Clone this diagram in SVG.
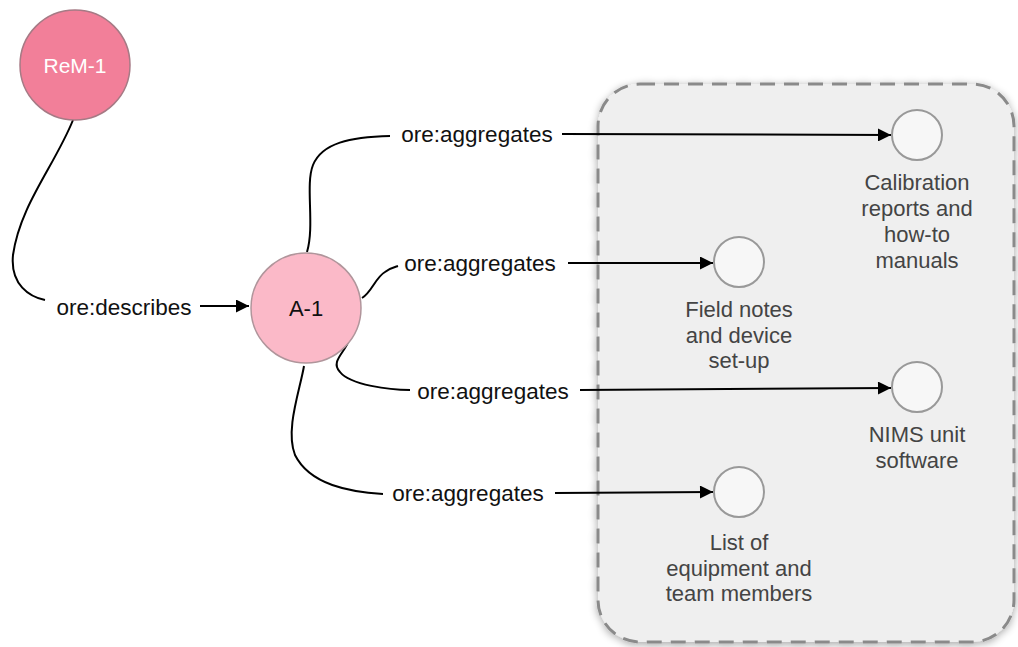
<svg xmlns="http://www.w3.org/2000/svg" width="1018" height="647" viewBox="0 0 1018 647">
<style>
.edge{fill:none;stroke:#000;stroke-width:2}
.elbl{font-family:"Liberation Sans",Arial,sans-serif;font-size:22.5px;fill:#111;text-anchor:middle}
.nlbl{font-family:"Liberation Sans",Arial,sans-serif;font-size:22px;fill:#444;text-anchor:middle}
.res{fill:#f7f7f7;stroke:#999;stroke-width:2}
</style>
<defs>
<marker id="arr" viewBox="0 0 10 10" refX="10" refY="5" markerWidth="17" markerHeight="13" markerUnits="userSpaceOnUse" orient="auto">
<path d="M0,0 L10,5 L0,10 z" fill="#000"/>
</marker>
<filter id="sh" x="-10%" y="-10%" width="120%" height="120%">
<feGaussianBlur in="SourceAlpha" stdDeviation="4"/>
<feOffset dx="0" dy="2"/>
<feComponentTransfer><feFuncA type="linear" slope="0.35"/></feComponentTransfer>
<feMerge><feMergeNode/><feMergeNode in="SourceGraphic"/></feMerge>
</filter>
</defs>
<rect width="1018" height="647" fill="#fff"/>
<g id="aggregation-box">
<rect x="598" y="84" width="416" height="558" rx="42" ry="42" fill="#efefef" stroke="#8a8a8a" stroke-width="3" stroke-dasharray="15 9" filter="url(#sh)"/>
</g>
<g id="connectors">
<path class="edge" d="M73,120 C55,165 20,205 13,255 C10,285 30,297 45,300"/>
<path class="edge" d="M200,306 L249,306" marker-end="url(#arr)"/>
<path class="edge" d="M307,252 C315,225 305,185 313,165 C322,143 350,137 390,136"/>
<path class="edge" d="M562,134 L891,135" marker-end="url(#arr)"/>
<path class="edge" d="M362,298 C372,292 375,278 385,272 C390,268 395,267 398,266"/>
<path class="edge" d="M568,263 L713,263" marker-end="url(#arr)"/>
<path class="edge" d="M348,342 C345,352 330,362 340,372 C350,385 390,390 410,390"/>
<path class="edge" d="M580,390 L891,388" marker-end="url(#arr)"/>
<path class="edge" d="M304,366 C300,390 285,430 295,455 C310,485 350,492 383,494"/>
<path class="edge" d="M555,493 L713,492" marker-end="url(#arr)"/>
</g>
<g id="edge-labels">
<text class="elbl" x="124" y="315">ore:describes</text>
<text class="elbl" x="477" y="142">ore:aggregates</text>
<text class="elbl" x="480" y="271">ore:aggregates</text>
<text class="elbl" x="493" y="399">ore:aggregates</text>
<text class="elbl" x="468" y="501">ore:aggregates</text>
</g>
<g id="ReM-1">
<circle cx="75" cy="65" r="55" fill="#f27f99" stroke="#a67a85" stroke-width="1.5"/>
<text x="75" y="73" font-family="Liberation Sans,Arial,sans-serif" font-size="21" fill="#fff" text-anchor="middle">ReM-1</text>
</g>
<g id="A-1">
<circle cx="306" cy="308" r="55" fill="#fbb9c8" stroke="#b0959b" stroke-width="1.5"/>
<text x="306" y="316" font-family="Liberation Sans,Arial,sans-serif" font-size="22" fill="#111" text-anchor="middle">A-1</text>
</g>
<g id="calibration">
<circle class="res" cx="917" cy="135" r="25"/>
<text class="nlbl" x="917" y="190">Calibration</text>
<text class="nlbl" x="917" y="216">reports and</text>
<text class="nlbl" x="917" y="242">how-to</text>
<text class="nlbl" x="917" y="268">manuals</text>
</g>
<g id="field-notes">
<circle class="res" cx="739" cy="262" r="25"/>
<text class="nlbl" x="739" y="317">Field notes</text>
<text class="nlbl" x="739" y="343">and device</text>
<text class="nlbl" x="739" y="368">set-up</text>
</g>
<g id="nims">
<circle class="res" cx="917" cy="387" r="25"/>
<text class="nlbl" x="917" y="442">NIMS unit</text>
<text class="nlbl" x="917" y="468">software</text>
</g>
<g id="equipment">
<circle class="res" cx="739" cy="492" r="25"/>
<text class="nlbl" x="739" y="550">List of</text>
<text class="nlbl" x="739" y="576">equipment and</text>
<text class="nlbl" x="739" y="601">team members</text>
</g>
</svg>
